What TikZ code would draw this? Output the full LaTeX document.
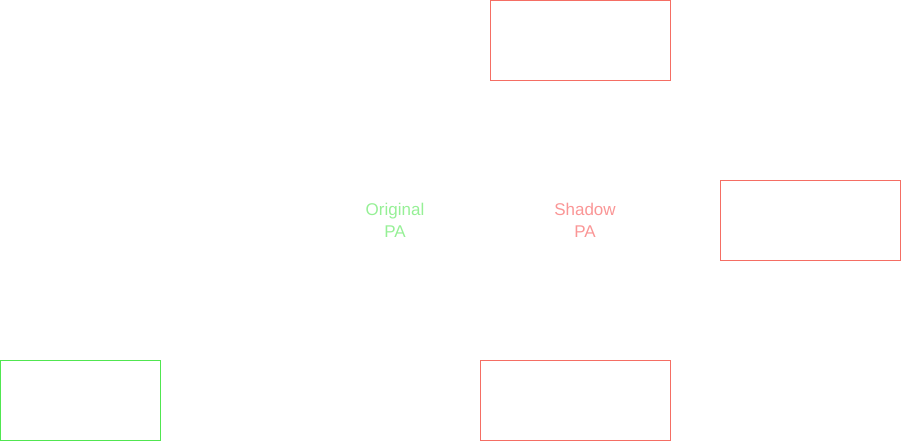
\documentclass[tikz,border=0pt]{standalone}
\usepackage{fontspec}
\setmainfont{Liberation Sans}
\definecolor{shadowred}{RGB}{245,110,100}
\definecolor{origgreen}{RGB}{80,230,80}
\definecolor{shadowtext}{RGB}{250,150,150}
\definecolor{origtext}{RGB}{150,240,150}
\begin{document}
\begin{tikzpicture}[x=1pt,y=-1pt,
    box/.style={draw, rectangle, inner sep=0pt, minimum height=80pt},
    lbl/.style={align=center, font=\fontsize{17}{22}\selectfont}]
    \useasboundingbox (0,0) rectangle (901,441);
    \node [box, shadowred, minimum width=180pt] (ShadowTop) at (580,40) {};
    \node [box, shadowred, minimum width=180pt] (ShadowRight) at (810,220) {};
    \node [box, shadowred, minimum width=190pt] (ShadowBottom) at (575,400) {};
    \node [box, origgreen, minimum width=160pt] (Original) at (80,400) {};
    \node [lbl, origtext] (OriginalPA) at (395,220) {Original\\PA};
    \node [lbl, shadowtext] (ShadowPA) at (585,220) {Shadow\\PA};
\end{tikzpicture}
\end{document}
